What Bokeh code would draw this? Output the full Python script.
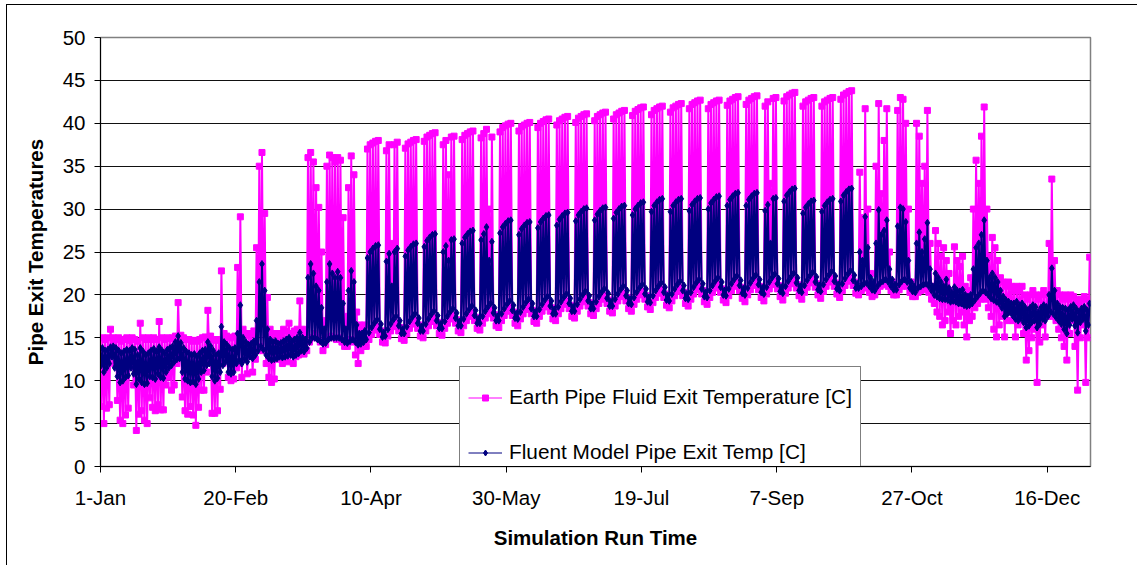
from bokeh.plotting import figure
from bokeh.models import Range1d, FixedTicker, Legend, LegendItem, ColumnDataSource
from bokeh.embed import file_html
from bokeh.resources import INLINE

# ---------------- data (one value per simulated day, Jan 1 = day 0) ----------------
TICK_DAYS = [0, 50, 100, 150, 200, 250, 300, 350]
TICK_LABELS = ["1-Jan", "20-Feb", "10-Apr", "30-May", "19-Jul", "7-Sep", "27-Oct", "16-Dec"]
Y_TICKS = [0, 5, 10, 15, 20, 25, 30, 35, 40, 45, 50]

# Earth Pipe Fluid Exit Temperature [C] : daily high / daily low
EARTH_HI = [
    15.0, 14.8, 15.0, 16.0, 15.0, 14.8, 15.0,
    14.6, 14.8, 15.0, 14.7, 15.0, 14.8, 14.6,
    16.7, 15.0, 14.8, 15.0, 14.8, 15.0, 14.8,
    16.9, 15.0, 14.8, 15.0, 14.9, 15.0, 15.2,
    19.1, 15.3, 15.0, 14.8, 14.8, 14.6, 14.7,
    14.6, 14.8, 15.0, 15.1, 18.2, 15.2, 14.8,
    14.7, 14.8, 22.8, 15.5, 15.2, 15.0, 15.0,
    15.2, 23.2, 29.1, 16.0, 15.5, 15.3, 15.5,
    15.8, 25.5, 35.0, 36.6, 29.5, 19.7, 16.0,
    15.5, 15.5, 15.2, 15.5, 16.0, 15.8, 16.7,
    15.5, 15.8, 16.0, 19.3, 16.0, 15.5, 36.0,
    36.6, 35.5, 32.5, 30.2, 25.0, 17.0, 35.0,
    36.3, 36.0, 35.5, 36.0, 35.7, 29.0, 17.5,
    32.5, 36.2, 34.0, 18.0, 16.5, 16.0, 16.5,
    37.0, 37.5, 37.7, 37.9, 38.0, 15.8, 15.0,
    36.8, 37.5, 26.0, 37.5, 37.8, 16.2, 15.4,
    37.1, 37.6, 37.8, 38.0, 38.1, 16.5, 15.7,
    37.9, 38.4, 38.6, 38.8, 38.9, 16.8, 16.0,
    37.5, 38.0, 34.0, 38.4, 38.5, 17.1, 16.3,
    38.1, 38.6, 38.8, 39.0, 39.1, 17.4, 16.6,
    38.3, 38.8, 39.3, 30.0, 38.4, 17.7, 16.9,
    39.0, 39.5, 39.7, 39.9, 40.0, 18.0, 17.2,
    39.1, 39.6, 39.8, 40.0, 40.1, 18.2, 17.4,
    39.5, 40.0, 40.2, 40.4, 40.5, 18.5, 17.7,
    39.8, 40.3, 40.5, 40.7, 40.8, 18.8, 18.0,
    40.1, 40.6, 40.8, 41.0, 41.1, 19.1, 18.3,
    40.3, 40.8, 41.0, 41.2, 41.3, 19.4, 18.6,
    40.5, 41.0, 41.2, 41.4, 41.5, 19.7, 18.9,
    40.9, 41.4, 41.6, 41.8, 41.9, 19.9, 19.1,
    41.0, 41.5, 41.7, 41.9, 42.0, 20.1, 19.3,
    41.3, 41.8, 42.0, 42.2, 42.3, 20.3, 19.5,
    41.7, 42.2, 42.4, 42.6, 42.7, 20.5, 19.7,
    41.7, 42.2, 42.4, 42.6, 42.7, 20.7, 19.9,
    42.1, 42.6, 42.8, 43.0, 43.1, 20.9, 20.1,
    42.2, 42.7, 42.9, 43.1, 43.2, 21.0, 20.2,
    42.0, 42.5, 33.0, 42.9, 43.0, 21.1, 20.3,
    42.6, 43.1, 43.3, 43.5, 43.6, 21.2, 20.4,
    42.0, 42.5, 42.7, 42.9, 43.0, 21.3, 20.5,
    42.0, 42.5, 42.7, 42.9, 43.0, 21.4, 20.6,
    42.8, 43.3, 43.5, 43.7, 43.8, 21.5, 20.7,
    34.3, 29.0, 41.7, 30.0, 22.5, 21.0, 35.0,
    42.3, 31.8, 38.0, 41.7, 25.0, 21.5, 21.0,
    41.5, 43.0, 42.8, 40.0, 30.0, 21.5, 20.8,
    40.0, 38.5, 33.0, 35.0, 41.5, 26.0, 21.0,
    27.5, 26.0, 24.5, 25.5, 24.0, 22.5, 20.5,
    25.6, 24.0, 23.3, 24.5, 21.0, 20.5, 22.0,
    30.0, 35.7, 33.0, 38.5, 41.9, 30.0, 24.5,
    26.7, 25.5, 24.0, 22.0, 21.5, 21.0, 21.5,
    21.0, 20.5, 21.0, 20.5, 21.0, 20.0, 19.5,
    20.0, 20.5, 20.0, 19.5, 20.0, 20.5, 20.0,
    26.0, 33.5, 24.0, 20.5, 20.0, 19.5, 20.0,
    19.5, 20.0, 19.8, 19.5, 19.0, 19.5, 19.8,
    19.5, 24.4,
]
EARTH_LO = [
    7.0, 5.0, 6.8, 7.2, 13.5, 12.0, 7.7,
    5.4, 5.0, 6.0, 6.8, 12.5, 9.5, 4.2,
    6.1, 6.5, 5.4, 5.0, 8.0, 6.9, 6.5,
    7.2, 6.6, 6.6, 9.5, 10.4, 8.9, 9.5,
    12.0, 13.0, 8.1, 6.5, 6.1, 7.0, 6.0,
    4.8, 6.9, 8.9, 8.9, 11.0, 12.5, 6.2,
    6.2, 6.5, 9.0, 12.0, 13.0, 10.4, 10.0,
    10.2, 11.5, 12.0, 10.4, 12.5, 10.8, 13.0,
    11.0, 12.5, 13.5, 14.0, 13.5, 12.0, 10.4,
    9.8, 10.2, 12.5, 13.0, 12.0, 13.0, 12.2,
    13.2, 12.0, 12.8, 13.0, 13.5, 13.1, 13.5,
    14.5, 15.0, 15.5, 15.0, 14.5, 13.5, 14.2,
    15.0, 15.2, 15.0, 14.8, 15.0, 14.5, 14.0,
    14.0, 14.8, 14.5, 13.0, 12.0, 13.5, 14.0,
    14.0, 14.8, 15.4, 15.9, 16.3, 15.4, 14.5,
    14.4, 15.2, 15.8, 16.3, 16.7, 15.8, 14.9,
    14.7, 15.5, 16.1, 16.6, 17.0, 16.1, 15.2,
    15.0, 15.8, 16.4, 16.9, 17.3, 16.4, 15.5,
    15.3, 16.1, 16.7, 17.2, 17.6, 16.7, 15.8,
    15.6, 16.4, 17.0, 17.5, 17.9, 17.0, 16.1,
    15.9, 16.7, 17.3, 17.8, 18.2, 17.3, 16.4,
    16.2, 17.0, 17.6, 18.1, 18.5, 17.6, 16.7,
    16.4, 17.2, 17.8, 18.3, 18.7, 17.8, 16.9,
    16.7, 17.5, 18.1, 18.6, 19.0, 18.1, 17.2,
    17.0, 17.8, 18.4, 18.9, 19.3, 18.4, 17.5,
    17.3, 18.1, 18.7, 19.2, 19.6, 18.7, 17.8,
    17.6, 18.4, 19.0, 19.5, 19.9, 19.0, 18.1,
    17.9, 18.7, 19.3, 19.8, 20.2, 19.3, 18.4,
    18.1, 18.9, 19.5, 20.0, 20.4, 19.5, 18.6,
    18.3, 19.1, 19.7, 20.2, 20.6, 19.7, 18.8,
    18.5, 19.3, 19.9, 20.4, 20.8, 19.9, 19.0,
    18.7, 19.5, 20.1, 20.6, 21.0, 20.1, 19.2,
    18.9, 19.7, 20.3, 20.8, 21.2, 20.3, 19.4,
    19.1, 19.9, 20.5, 21.0, 21.4, 20.5, 19.6,
    19.2, 20.0, 20.6, 21.1, 21.5, 20.6, 19.7,
    19.3, 20.1, 20.7, 21.2, 21.6, 20.7, 19.8,
    19.4, 20.2, 20.8, 21.3, 21.7, 20.8, 19.9,
    19.5, 20.3, 20.9, 21.4, 21.8, 20.9, 20.0,
    19.6, 20.4, 21.0, 21.5, 21.9, 21.0, 20.1,
    19.7, 20.5, 21.1, 21.6, 22.0, 21.1, 20.2,
    20.0, 20.5, 21.0, 20.8, 20.3, 19.8, 20.0,
    20.5, 21.0, 21.2, 21.3, 21.0, 20.5, 20.0,
    20.0, 20.6, 21.0, 21.2, 21.0, 20.3, 19.8,
    19.8, 20.3, 20.5, 20.6, 20.8, 20.3, 19.5,
    19.0, 18.0, 17.5, 16.5, 17.0, 18.0, 15.5,
    17.0, 16.5, 17.5, 18.0, 16.5, 15.1, 17.0,
    17.5, 18.5, 19.0, 19.5, 20.0, 19.5, 18.5,
    17.5, 16.0, 15.1, 16.5, 17.5, 15.1, 17.0,
    18.0, 17.0, 15.1, 16.5, 17.0, 15.5, 12.4,
    13.5, 15.0, 16.0, 9.8, 14.5, 16.5, 15.1,
    17.5, 18.0, 17.5, 17.0, 16.0, 15.0, 14.0,
    12.4, 15.5, 17.0, 14.0, 8.9, 15.0, 16.5,
    9.8, 15.0,
]

# Fluent Model Pipe Exit Temp [C] : daily high / daily low
FLUENT_HI = [
    13.8, 13.5, 13.6, 13.9, 14.0, 13.8, 13.5,
    13.2, 13.4, 13.6, 13.5, 13.8, 13.6, 13.0,
    13.8, 13.4, 13.0, 13.2, 13.5, 13.7, 13.4,
    13.9, 13.5, 13.2, 13.6, 13.8, 14.0, 14.5,
    15.2, 14.4, 13.8, 13.4, 13.2, 13.0, 13.1,
    12.8, 13.2, 13.5, 13.6, 14.5, 14.0, 13.5,
    13.0, 13.2, 16.3, 14.5, 14.2, 13.8, 13.6,
    13.8, 15.5, 18.8, 15.0, 14.5, 14.2, 14.3,
    14.6, 17.0, 21.5, 23.6, 20.5, 16.0, 14.8,
    14.5, 14.6, 14.3, 14.4, 14.6, 14.8, 15.0,
    14.6, 14.8, 15.0, 15.6, 15.0, 14.8, 22.0,
    23.6, 22.5, 21.0, 20.5, 18.5, 16.0, 21.5,
    23.6, 22.5, 22.0, 22.7, 22.0, 19.0, 16.0,
    20.5, 22.8, 21.5, 16.5, 15.5, 15.5, 15.8,
    24.3, 25.0, 25.4, 25.7, 25.8, 16.6, 15.6,
    23.9, 24.8, 21.0, 25.0, 25.4, 17.0, 16.0,
    24.5, 25.2, 25.6, 25.9, 26.0, 17.3, 16.3,
    25.6, 26.3, 26.7, 27.0, 27.1, 17.6, 16.6,
    25.0, 25.7, 24.0, 26.4, 26.5, 17.9, 16.9,
    26.0, 26.7, 27.1, 27.4, 27.5, 18.2, 17.2,
    26.4, 27.1, 27.9, 24.0, 26.2, 18.5, 17.5,
    27.2, 27.9, 28.3, 28.6, 28.7, 18.8, 17.8,
    27.0, 27.7, 28.1, 28.4, 28.5, 19.0, 18.0,
    27.8, 28.5, 28.9, 29.2, 29.3, 19.3, 18.3,
    28.1, 28.8, 29.2, 29.5, 29.6, 19.6, 18.6,
    28.6, 29.3, 29.7, 30.0, 30.1, 19.9, 18.9,
    28.7, 29.4, 29.8, 30.1, 30.2, 20.2, 19.2,
    28.9, 29.6, 30.0, 30.3, 30.4, 20.5, 19.5,
    29.3, 30.0, 30.4, 30.7, 30.8, 20.7, 19.7,
    29.7, 30.4, 30.8, 31.1, 31.2, 20.9, 19.9,
    29.7, 30.4, 30.8, 31.1, 31.2, 21.1, 20.1,
    29.8, 30.5, 30.9, 31.2, 31.3, 21.3, 20.3,
    30.0, 30.7, 31.1, 31.4, 31.5, 21.5, 20.5,
    30.4, 31.1, 31.5, 31.8, 31.9, 21.7, 20.7,
    30.4, 31.1, 31.5, 31.8, 31.9, 21.8, 20.8,
    29.8, 30.5, 26.0, 31.2, 31.3, 21.9, 20.9,
    30.9, 31.6, 32.0, 32.3, 32.4, 22.0, 21.0,
    29.5, 30.2, 30.6, 30.9, 31.0, 22.1, 21.1,
    29.7, 30.4, 30.8, 31.1, 31.2, 22.2, 21.2,
    30.9, 31.6, 32.0, 32.3, 32.4, 22.3, 21.3,
    25.0, 24.0, 29.1, 25.5, 22.0, 21.5, 26.0,
    29.9, 27.0, 27.5, 28.7, 23.0, 21.8, 21.2,
    28.0, 30.2, 30.0, 28.5, 24.0, 21.5, 21.0,
    26.0, 27.3, 25.0, 26.5, 28.4, 23.0, 21.0,
    22.5, 22.0, 21.5, 21.0, 21.8, 20.8, 20.3,
    20.9, 20.5, 20.4, 20.6, 20.0, 19.8, 20.0,
    23.0, 25.5, 26.0, 27.0, 28.7, 24.0, 22.0,
    22.5, 22.0, 21.5, 20.5, 19.8, 19.4, 19.2,
    19.0, 19.0, 19.2, 18.8, 19.0, 18.6, 18.2,
    18.5, 18.8, 18.6, 18.0, 18.5, 18.8, 18.6,
    20.0, 23.1, 20.5, 19.0, 18.6, 18.5, 18.4,
    18.2, 18.6, 18.8, 18.4, 18.0, 18.4, 18.6,
    18.2, 19.0,
]
FLUENT_LO = [
    11.8, 11.0, 11.5, 12.0, 12.8, 11.5, 10.5,
    9.8, 10.0, 10.4, 10.6, 11.5, 10.8, 9.6,
    10.2, 9.8, 9.6, 9.7, 10.5, 10.4, 10.2,
    10.8, 10.4, 10.3, 11.0, 11.5, 11.8, 12.2,
    12.5, 12.6, 11.0, 10.2, 10.0, 9.8, 9.9,
    9.6, 10.2, 11.0, 11.2, 11.8, 12.0, 10.5,
    10.0, 10.3, 11.0, 11.8, 12.2, 11.0, 10.8,
    11.0, 12.0, 12.4, 12.0, 12.5, 12.2, 12.8,
    12.6, 13.0, 13.5, 14.0, 13.6, 13.0, 12.6,
    12.4, 12.5, 12.6, 12.8, 12.7, 12.8, 12.9,
    13.0, 12.8, 13.0, 13.2, 13.5, 13.4, 13.8,
    14.5, 15.0, 15.0, 14.8, 14.6, 14.3, 14.4,
    14.8, 15.0, 15.0, 15.0, 15.0, 14.8, 14.5,
    14.4, 14.6, 14.8, 14.5, 14.2, 14.3, 14.5,
    14.8, 15.6, 16.2, 16.7, 17.1, 16.0, 15.1,
    15.2, 16.0, 16.6, 17.1, 17.5, 16.4, 15.5,
    15.5, 16.3, 16.9, 17.4, 17.8, 16.7, 15.8,
    15.8, 16.6, 17.2, 17.7, 18.1, 17.0, 16.1,
    16.1, 16.9, 17.5, 18.0, 18.4, 17.3, 16.4,
    16.4, 17.2, 17.8, 18.3, 18.7, 17.6, 16.7,
    16.7, 17.5, 18.1, 18.6, 19.0, 17.9, 17.0,
    17.0, 17.8, 18.4, 18.9, 19.3, 18.2, 17.3,
    17.2, 18.0, 18.6, 19.1, 19.5, 18.4, 17.5,
    17.5, 18.3, 18.9, 19.4, 19.8, 18.7, 17.8,
    17.8, 18.6, 19.2, 19.7, 20.1, 19.0, 18.1,
    18.1, 18.9, 19.5, 20.0, 20.4, 19.3, 18.4,
    18.4, 19.2, 19.8, 20.3, 20.7, 19.6, 18.7,
    18.7, 19.5, 20.1, 20.6, 21.0, 19.9, 19.0,
    18.9, 19.7, 20.3, 20.8, 21.2, 20.1, 19.2,
    19.1, 19.9, 20.5, 21.0, 21.4, 20.3, 19.4,
    19.3, 20.1, 20.7, 21.2, 21.6, 20.5, 19.6,
    19.5, 20.3, 20.9, 21.4, 21.8, 20.7, 19.8,
    19.7, 20.5, 21.1, 21.6, 22.0, 20.9, 20.0,
    19.9, 20.7, 21.3, 21.8, 22.2, 21.1, 20.2,
    20.0, 20.8, 21.4, 21.9, 22.3, 21.2, 20.3,
    20.1, 20.9, 21.5, 22.0, 22.4, 21.3, 20.4,
    20.2, 21.0, 21.6, 22.1, 22.5, 21.4, 20.5,
    20.3, 21.1, 21.7, 22.2, 22.6, 21.5, 20.6,
    20.4, 21.2, 21.8, 22.3, 22.7, 21.6, 20.7,
    20.5, 21.3, 21.9, 22.4, 22.8, 21.7, 20.8,
    20.8, 21.0, 21.3, 21.4, 21.0, 20.6, 20.5,
    21.0, 21.4, 21.6, 21.8, 21.5, 21.0, 20.6,
    20.6, 21.2, 21.6, 21.8, 21.5, 20.8, 20.4,
    20.3, 20.8, 21.0, 21.2, 21.3, 21.0, 20.5,
    20.0, 19.8, 19.6, 19.5, 19.5, 19.4, 19.2,
    19.3, 19.2, 19.0, 19.0, 18.8, 18.7, 18.8,
    19.0, 19.4, 19.8, 20.2, 20.5, 20.3, 20.0,
    19.6, 19.4, 19.2, 19.0, 18.5, 17.5, 17.8,
    18.0, 17.6, 17.2, 17.0, 17.3, 16.8, 16.2,
    16.4, 16.8, 17.0, 16.2, 16.6, 17.2, 17.0,
    17.5, 18.0, 17.8, 17.4, 17.0, 16.6, 16.0,
    15.5, 16.5, 17.2, 16.4, 15.6, 16.8, 17.2,
    15.8, 16.5,
]

SERIES_NAMES = ["Earth Pipe Fluid Exit Temperature [C]", "Fluent Model Pipe Exit Temp [C]"]
PINK = "#FF00FF"
NAVY = "#000080"
FONT = "Liberation Sans"


def daily_trace(lo, hi):
    xs, ys = [], []
    for d, (a, b) in enumerate(zip(lo, hi)):
        xs += [d + 0.25, d + 0.7]
        ys += [a, b]
    return ColumnDataSource(dict(x=xs, y=ys))


earth_src = daily_trace(EARTH_LO, EARTH_HI)
fluent_src = daily_trace(FLUENT_LO, FLUENT_HI)

frame_css = {
    "background-color": "white",
    "background-image": "linear-gradient(#000,#000), linear-gradient(#000,#000)",
    "background-size": "1px 100%, 100% 1px",
    "background-position": "6px 4px, 6px 4px",
    "background-repeat": "no-repeat",
}

p = figure(
    width=1137, height=565,
    output_backend="svg", toolbar_location=None,
    x_range=Range1d(0, 366), y_range=Range1d(0, 50),
    min_border_left=100, min_border_right=47, min_border_top=37, min_border_bottom=99,
    background_fill_color="white", border_fill_alpha=0.0,
    outline_line_color="#808080", outline_line_width=1.5,
    styles=frame_css,
)

e_line = p.line("x", "y", source=earth_src, color=PINK, line_width=2)
e_pts = p.scatter("x", "y", source=earth_src, marker="square", size=6, color=PINK)
f_line = p.line("x", "y", source=fluent_src, color=NAVY, line_width=2)
f_pts = p.scatter("x", "y", source=fluent_src, marker="diamond", size=7, color=NAVY)

# thin swatch renderers for the legend only (a single non-drawable NaN row each)
nan = float("nan")
swatch = ColumnDataSource(dict(x=[nan], y=[nan]))
e_leg_line = p.line("x", "y", source=swatch, color=PINK, line_width=1)
e_leg_pt = p.scatter("x", "y", source=swatch, marker="square", color=PINK)
f_leg_line = p.line("x", "y", source=swatch, color=NAVY, line_width=1)
f_leg_pt = p.scatter("x", "y", source=swatch, marker="diamond", color=NAVY)

# axes
p.xaxis.ticker = FixedTicker(ticks=TICK_DAYS)
p.xaxis.major_label_overrides = {t: lab for t, lab in zip(TICK_DAYS, TICK_LABELS)}
p.yaxis.ticker = FixedTicker(ticks=Y_TICKS)
for ax in (p.xaxis[0], p.yaxis[0]):
    ax.axis_line_color = "black"
    ax.major_tick_line_color = "black"
    ax.major_tick_in = 0
    ax.major_tick_out = 6
    ax.minor_tick_line_color = None
    ax.major_label_text_font = FONT
    ax.major_label_text_font_size = "20.5px"
    ax.major_label_text_color = "black"
    ax.axis_label_text_font = FONT
    ax.axis_label_text_font_size = "20.5px"
    ax.axis_label_text_font_style = "bold"
    ax.axis_label_text_color = "black"
p.xaxis.axis_label = "Simulation Run Time"
p.yaxis.axis_label = "Pipe Exit Temperatures"
p.xaxis.major_label_standoff = 13
p.xaxis.axis_label_standoff = 14
p.yaxis.major_label_standoff = 9
p.yaxis.axis_label_standoff = 13

p.xgrid.grid_line_color = None
p.ygrid.ticker = FixedTicker(ticks=Y_TICKS[1:-1])
p.ygrid.grid_line_color = "#111111"
p.ygrid.grid_line_width = 1

legend = Legend(
    items=[
        LegendItem(label=SERIES_NAMES[0], renderers=[e_leg_line, e_leg_pt]),
        LegendItem(label=SERIES_NAMES[1], renderers=[f_leg_line, f_leg_pt]),
    ],
    location=(359, -17),
    label_text_font=FONT, label_text_font_size="20.8px", label_text_color="black",
    glyph_width=34, glyph_height=15, label_height=44, label_standoff=7,
    padding=8, spacing=11, margin=0,
    border_line_color="black", border_line_width=1,
    background_fill_color="white", background_fill_alpha=1.0,
)
p.add_layout(legend)

open("out.html", "w").write(file_html(p, INLINE))
